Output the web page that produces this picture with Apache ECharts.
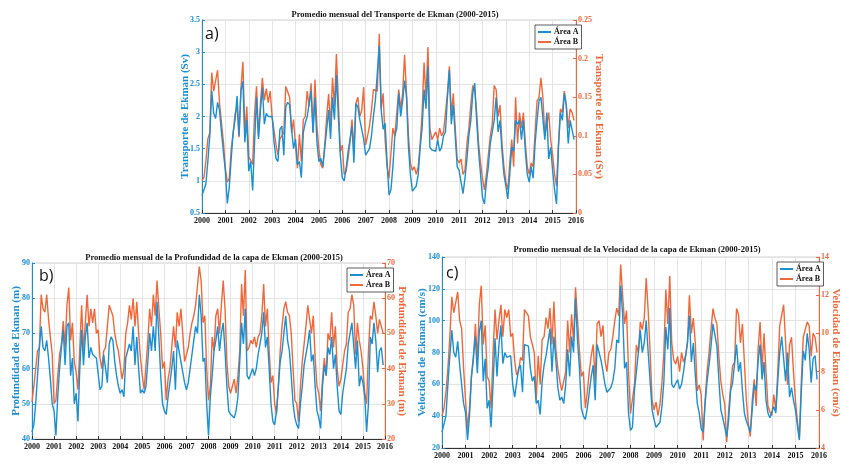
<!DOCTYPE html>
<html>
<head>
<meta charset="utf-8">
<script src="https://cdn.jsdelivr.net/npm/echarts@6/dist/echarts.min.js"></script>
<style>
html,body{margin:0;padding:0;background:#fff;}
#chart{width:842px;height:465px;}
</style>
</head>
<body>
<div id="chart"></div>
<script>
// Monthly means, Jan 2000 – Dec 2015 (12 values per row = one year)

// a) Ekman transport (Sv) – Área A (left axis), Área B (right axis)
const transporteA = [
  0.77,0.78,0.95,1.30,1.70,2.40,2.05,1.97,2.22,2.10,1.75,1.45,
  1.15,0.65,0.90,1.35,1.75,1.95,2.32,1.70,2.40,2.55,1.60,1.95,
  1.15,1.30,0.85,1.60,2.30,1.65,2.10,2.45,1.88,2.05,2.00,1.98,
  2.00,1.60,1.35,1.30,1.80,1.85,1.40,2.15,2.22,2.18,1.80,1.50,
  1.65,1.25,1.30,1.05,1.75,1.90,2.00,2.20,2.40,1.75,2.30,1.60,
  1.30,1.35,1.22,1.50,1.80,2.10,1.65,2.30,1.95,2.65,2.00,1.40,
  1.05,1.00,1.20,1.45,1.65,1.85,1.28,2.20,2.15,1.95,1.80,1.65,
  1.40,1.40,1.50,1.70,2.00,2.25,2.25,3.10,2.10,1.80,1.90,1.30,
  0.78,0.86,1.22,1.70,1.82,2.36,2.00,2.24,2.56,2.30,1.52,1.10,
  0.84,0.84,0.92,1.10,1.52,1.82,2.42,2.12,2.78,1.52,1.48,1.46,
  1.46,1.64,1.46,1.52,1.70,1.76,2.30,2.72,1.88,2.18,1.70,1.22,
  1.16,0.98,0.80,1.04,1.34,1.70,1.94,2.36,2.52,1.94,1.46,1.10,
  0.74,0.64,0.98,1.22,1.58,1.58,1.94,2.30,1.76,1.94,1.46,1.10,
  0.92,0.72,1.10,1.52,1.46,1.94,1.88,1.94,1.64,1.94,1.46,1.10,
  0.98,1.22,1.04,1.58,1.94,2.24,2.30,2.30,1.64,2.06,1.34,1.52,
  1.16,0.86,0.64,1.52,2.06,1.94,2.36,2.18,1.58,1.94,1.96,1.64
];
const transporteB = [
  0.042,0.046,0.067,0.096,0.104,0.182,0.158,0.157,0.185,0.142,0.140,0.092,
  0.058,0.040,0.045,0.083,0.104,0.129,0.138,0.098,0.162,0.196,0.104,0.138,
  0.073,0.071,0.063,0.129,0.164,0.100,0.142,0.175,0.146,0.161,0.143,0.158,
  0.125,0.127,0.088,0.075,0.096,0.100,0.104,0.164,0.164,0.150,0.104,0.121,
  0.088,0.058,0.102,0.067,0.121,0.125,0.158,0.138,0.168,0.104,0.173,0.113,
  0.083,0.063,0.058,0.088,0.125,0.154,0.113,0.175,0.138,0.206,0.146,0.079,
  0.088,0.050,0.054,0.071,0.092,0.121,0.083,0.142,0.150,0.125,0.133,0.163,
  0.088,0.100,0.113,0.133,0.160,0.158,0.158,0.232,0.135,0.155,0.095,0.060,
  0.045,0.045,0.110,0.100,0.130,0.160,0.135,0.155,0.205,0.155,0.100,0.065,
  0.055,0.060,0.050,0.060,0.090,0.130,0.195,0.150,0.215,0.110,0.095,0.095,
  0.105,0.095,0.110,0.100,0.105,0.130,0.155,0.190,0.125,0.155,0.110,0.070,
  0.065,0.070,0.050,0.055,0.090,0.110,0.140,0.165,0.160,0.130,0.090,0.065,
  0.045,0.030,0.050,0.075,0.100,0.115,0.165,0.160,0.125,0.140,0.090,0.060,
  0.040,0.030,0.065,0.095,0.060,0.150,0.090,0.130,0.110,0.130,0.090,0.060,
  0.050,0.065,0.060,0.105,0.145,0.150,0.175,0.150,0.100,0.115,0.130,0.095,
  0.075,0.050,0.035,0.090,0.135,0.130,0.158,0.140,0.110,0.135,0.130,0.120
];

// b) Ekman layer depth (m)
const profundidadA = [
  42,44,50,58,66,72,66,65,68,63,57,50,
  48,41,52,60,66,71,61,72,73,58,63,50,
  53,45,60,71,61,69,73,63,66,64,64,63,
  63,54,55,64,64,56,67,69,68,62,58,55,
  53,54,52,63,65,67,65,72,61,69,60,53,
  54,53,55,62,70,65,72,65,79,69,58,50,
  48,47,52,56,60,65,54,68,68,62,59,56,
  54,56,60,64,68,72,70,81,75,62,63,50,
  41,52,58,65,68,72,65,70,73,65,55,48,
  47,47,46,48,52,62,73,67,77,58,57,57,
  60,58,60,64,64,70,76,66,69,60,50,45,
  44,48,55,62,65,70,75,68,65,58,50,46,
  44,43,50,55,61,61,67,71,62,64,55,48,
  46,43,55,61,58,66,64,69,60,64,55,48,
  47,53,53,60,67,70,73,73,60,68,55,58,
  56,52,42,50,69,67,73,68,59,65,66,61
];
const profundidadB = [
  30.5,35,40,45,46,61,57,56,61,54,54.5,44,
  30,31,38,44,47,53.5,46,58,63,48,53,42,
  39,34,46,58,45,53,61,52,57,53,57,50,
  51,43,40,45,46,52,58,58,55,50,47,45,
  45,37,40,50,53,58,54,60,52,59,50,43,
  38,34,34,48,57,52,61,55,65,57,50,40,
  42,31,37,40,46,52,46,56,52,57,50,42,
  44,46,50,53,55,58,58,69,65,53,55,40,
  31,35,49,45,55,57,50,58,65,57,42,35,
  33,35,37,33,38,45,64,55,68,45,46,48,
  47,49,46,49,50,55,64,52,57,45,36,38,
  30,27,35,45,52,57,59,56,55,50,40,31,
  30,25,35,42,47,52,58,58,50,55,43,35,
  33,28,37,43,38,50,48,56,46,52,40,35,
  37,37,45,47,56,57,61,58,44,53,48,45,
  40,33,30,45,55,54,59,55,50,54,52,50
];

// c) Ekman layer velocity (cm/s)
const velocidadA = [
  30,31,40,60,78,94,80,77,87,72,60,48,
  42,25,40,65,78,90,67,93,100,62,76,45,
  50,33,60,89,65,85,97,73,80,77,78,78,
  60,52,52,70,72,55,85,86,84,70,62,65,
  48,50,41,62,72,78,78,95,68,90,75,58,
  50,52,48,60,82,65,90,80,114,88,70,45,
  40,38,45,55,65,72,50,85,86,75,68,60,
  55,55,58,62,70,88,86,122,104,70,74,42,
  31,33,56,68,80,94,80,86,100,80,62,44,
  38,33,32,36,46,62,96,82,108,60,58,57,
  63,57,60,68,69,86,103,74,86,66,48,42,
  32,30,48,62,72,84,98,98,84,63,44,39,
  38,27,38,56,61,62,85,68,74,56,42,37,
  37,30,44,60,56,75,85,63,74,50,42,39,
  39,46,42,62,80,90,90,62,80,52,58,50,
  44,34,25,56,81,75,92,82,61,76,78,63
];
const velocidadB = [
  5.67,6.08,6.92,8.17,9.83,11.92,11.08,11.08,12.17,10.67,10.25,8.17,
  6.5,5.0,6.08,7.75,8.58,10.5,8.58,11.5,12.5,9.42,10.42,7.75,
  7.5,6.08,9.0,11.25,9.67,10.67,11.5,9.83,11.25,10.83,11.25,9.83,
  10.0,8.58,7.83,8.0,8.75,8.58,11.25,11.33,10.92,9.83,9.83,9.0,
  6.5,8.83,7.33,9.67,9.83,10.83,10.25,11.33,9.42,11.67,9.17,8.17,
  7.5,7.0,6.92,8.0,10.67,9.0,11.0,9.58,12.42,10.75,9.08,7.75,
  8.0,6.08,6.92,8.0,8.83,9.42,7.5,10.5,10.67,9.83,10.42,8.58,
  8.0,9.0,9.17,9.83,10.67,11.33,10.92,13.6,12.0,10.5,11.2,8.0,
  5.8,5.7,7.3,9.4,9.0,10.6,10.2,10.8,12.9,11.2,9.0,6.5,
  6.0,6.4,5.7,6.3,7.4,9.0,12.3,10.5,13.0,9.5,8.6,8.4,
  8.8,8.0,9.0,8.5,8.8,9.5,12.0,10.0,10.8,9.5,7.0,7.3,
  6.8,4.4,6.5,8.0,9.0,10.2,11.3,10.8,10.5,8.8,7.5,6.8,
  6.3,4.3,6.0,7.2,8.3,8.5,11.3,11.0,9.5,10.5,8.5,6.5,
  5.3,4.6,6.5,7.6,6.2,9.2,10.6,8.1,10.0,8.0,6.2,5.9,
  5.7,6.8,6.0,8.0,10.4,10.5,11.5,9.5,7.3,9.4,9.8,8.0,
  6.5,5.4,4.5,7.5,9.8,9.9,10.6,10.4,8.8,10.0,9.8,9.0
];

const titles = [
  'Promedio mensual del Transporte de Ekman (2000-2015)',
  'Promedio mensual de la Profundidad de la capa de Ekman (2000-2015)',
  'Promedio mensual de la Velocidad de la capa de Ekman (2000-2015)'
];
const axisNames = ['Transporte de Ekman (Sv)', 'Profundidad de Ekman (m)', 'Velocidad de Ekman (cm/s)'];
const seriesNames = ['Área A', 'Área B'];
const panelTags = ['a)', 'b)', 'c)'];

// time coordinate (decimal year) of each monthly value
const startYear = 2000, endYear = 2016;
const monthTime = i => startYear + i / 12;
const toPairs = vals => vals.map((v, i) => [monthTime(i), v]);

const BLUE = '#1a8fd2';
const ORANGE = '#f0683a';
const SERIF = '"Liberation Serif", "Times New Roman", serif';

// per-panel layout and scales
const panels = [
  { grid: {left: 202, top: 20, width: 374, height: 193},
    left: {min: 0.5, max: 3.5, interval: 0.5, gap: 11},
    right: {min: 0, max: 0.25, interval: 0.05, gap: 17},
    a: transporteA, b: transporteB,
    title: {left: 390, top: 5},
    legend: {left: 535, top: 25},
    tag: {left: 205, top: 26} },
  { grid: {left: 32, top: 263, width: 353, height: 176},
    left: {min: 40, max: 90, interval: 10, gap: 10},
    right: {min: 20, max: 70, interval: 10, gap: 11},
    a: profundidadA, b: profundidadB,
    title: {left: 209, top: 248},
    legend: {left: 347, top: 268},
    tag: {left: 39, top: 268} },
  { grid: {left: 442, top: 257, width: 378, height: 191},
    left: {min: 20, max: 140, interval: 20, gap: 14},
    right: {min: 4, max: 14, interval: 2, gap: 11},
    a: velocidadA, b: velocidadB,
    title: {left: 632, top: 240},
    legend: {left: 777, top: 262},
    tag: {left: 446, top: 265} }
];

const tickFont = {fontFamily: SERIF, fontWeight: 'bold', fontSize: 8};
const nameFont = {fontFamily: SERIF, fontWeight: 'bold', fontSize: 11};

const option = {
  animation: false,
  backgroundColor: '#ffffff',
  title: panels.map((p, k) => ({
    text: titles[k],
    left: p.title.left, top: p.title.top,
    textAlign: 'center',
    textStyle: {fontFamily: SERIF, fontWeight: 'bold', fontSize: 8.5, color: '#111'}
  })),
  legend: panels.map(p => ({
    data: seriesNames,
    orient: 'vertical',
    left: p.legend.left, top: p.legend.top,
    padding: [3, 3, 3, 3],
    itemGap: 2,
    itemWidth: 13, itemHeight: 2,
    icon: 'rect',
    borderColor: '#333', borderWidth: 0.8,
    backgroundColor: '#fff',
    textStyle: {fontFamily: SERIF, fontWeight: 'bold', fontSize: 8, color: '#111', padding: [0, 0, 0, -2]}
  })),
  grid: panels.map(p => Object.assign({show: true, borderColor: '#d0d0d0', borderWidth: 1, backgroundColor: 'transparent'}, p.grid)),
  xAxis: panels.map((p, k) => ({
    type: 'value', gridIndex: k,
    min: startYear, max: endYear, interval: 1,
    axisLine: {show: true, lineStyle: {color: '#333', width: 1}},
    axisTick: {show: true, inside: true, length: 3, lineStyle: {color: '#333'}},
    axisLabel: Object.assign({color: '#111', margin: 4, formatter: v => String(v)}, tickFont),
    splitLine: {show: true, lineStyle: {color: '#e4e4e4', width: 1}}
  })),
  yAxis: [].concat(...panels.map((p, k) => [
    { type: 'value', gridIndex: k, position: 'left',
      min: p.left.min, max: p.left.max, interval: p.left.interval,
      name: axisNames[k], nameLocation: 'middle', nameGap: p.left.gap, nameRotate: 90,
      nameMoveOverlap: false,
      nameTextStyle: Object.assign({color: BLUE}, nameFont),
      axisLine: {show: true, lineStyle: {color: BLUE, width: 1}},
      axisTick: {show: true, inside: true, length: 3, lineStyle: {color: BLUE}},
      axisLabel: Object.assign({color: BLUE, margin: 2}, tickFont),
      splitLine: {show: true, lineStyle: {color: '#e4e4e4', width: 1}} },
    { type: 'value', gridIndex: k, position: 'right',
      min: p.right.min, max: p.right.max, interval: p.right.interval,
      name: axisNames[k], nameLocation: 'middle', nameGap: p.right.gap, nameRotate: -90,
      nameMoveOverlap: false,
      nameTextStyle: Object.assign({color: ORANGE}, nameFont),
      axisLine: {show: true, lineStyle: {color: ORANGE, width: 1}},
      axisTick: {show: true, inside: true, length: 3, lineStyle: {color: ORANGE}},
      axisLabel: Object.assign({color: ORANGE, margin: 2}, tickFont),
      splitLine: {show: false} }
  ])),
  series: [].concat(...panels.map((p, k) => [
    { name: seriesNames[0], type: 'line', xAxisIndex: k, yAxisIndex: 2 * k,
      data: toPairs(p.a), showSymbol: false, symbol: 'none',
      lineStyle: {color: BLUE, width: 1.4}, itemStyle: {color: BLUE}, z: 3 },
    { name: seriesNames[1], type: 'line', xAxisIndex: k, yAxisIndex: 2 * k + 1,
      data: toPairs(p.b), showSymbol: false, symbol: 'none',
      lineStyle: {color: ORANGE, width: 1.4}, itemStyle: {color: ORANGE}, z: 2 }
  ])),
  graphic: panels.map((p, k) => ({
    type: 'text', left: p.tag.left, top: p.tag.top, z: 10,
    style: {text: panelTags[k], font: '16px "Open Sans", "Noto Sans", sans-serif', fill: '#111'}
  }))
};

const chart = echarts.init(document.getElementById('chart'), null, {renderer: 'canvas'});
chart.setOption(option);
</script>
</body>
</html>
